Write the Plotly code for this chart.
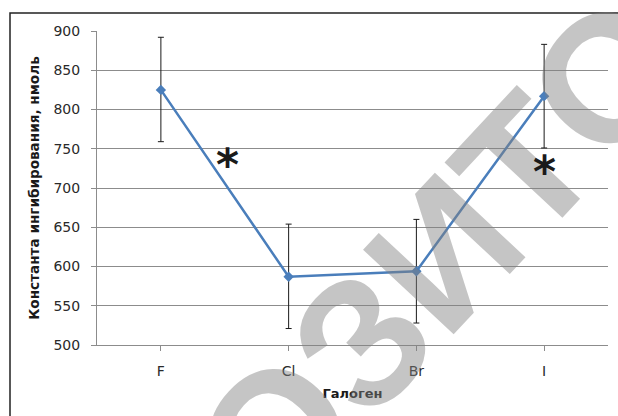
import plotly.graph_objects as go

# Inhibition constants by halogen substituent (nmol), mean with error
halogens = ["F", "Cl", "Br", "I"]
ki_mean = [825, 587, 594, 817]
ki_err_plus = [67, 67, 66, 66]
ki_err_minus = [66, 66, 66, 66]

# Significance markers: (x position in category units, y value)
star_marks = [(0.52, 738), (3.0, 729)]

y_ticks = [500, 550, 600, 650, 700, 750, 800, 850, 900]

FONT = "DejaVu Sans"
BLUE = "#4a7ebb"
GRID = "#8c8c8c"

# Plot area in figure pixels
L, R, T, B = 97, 608, 31, 345
W, H = R - L, B - T

fig = go.Figure()

fig.add_trace(go.Scatter(
    x=list(range(len(halogens))),
    y=ki_mean,
    mode="lines+markers",
    line=dict(color=BLUE, width=2.5),
    marker=dict(symbol="diamond", size=8, color=BLUE),
    error_y=dict(
        type="data",
        symmetric=False,
        array=ki_err_plus,
        arrayminus=ki_err_minus,
        color="#1a1a1a",
        thickness=1,
        width=3,
    ),
    showlegend=False,
))

# Watermark across the chart
fig.add_annotation(
    x=(442 - L) / W, y=(B - 256) / H, xref="paper", yref="paper",
    xanchor="center", yanchor="middle",
    text="<b>ОЗИТО</b>", showarrow=False, textangle=-47,
    font=dict(family="Liberation Sans", size=180, color="rgba(128,128,128,0.46)"),
)

for sx, sy in star_marks:
    fig.add_annotation(
        x=sx, y=sy, xref="x", yref="y",
        text="<b>*</b>", showarrow=False,
        font=dict(family=FONT, size=44, color="#1a1a1a"),
        yshift=-6,
    )

fig.update_layout(
    width=618, height=416,
    margin=dict(l=L, r=618 - R, t=T, b=416 - B),
    paper_bgcolor="white",
    plot_bgcolor="white",
    font=dict(family=FONT, size=14, color="#333333"),
    xaxis=dict(
        tickmode="array",
        tickvals=list(range(len(halogens))),
        ticktext=halogens,
        range=[-0.5, 3.5],
        showgrid=False,
        showline=True, linecolor=GRID, linewidth=1,
        ticks="outside", ticklen=5, tickcolor=GRID,
        tickson="boundaries",
        ticklabelstandoff=8,
        tickfont=dict(family=FONT, size=14, color="#2a2a2a"),
        title=dict(text="<b>Галоген</b>", font=dict(family=FONT, size=13, color="#1a1a1a"), standoff=11),
        zeroline=False,
    ),
    yaxis=dict(
        range=[500, 900],
        tickvals=y_ticks,
        showgrid=True, gridcolor=GRID, gridwidth=1,
        showline=True, linecolor=GRID, linewidth=1,
        ticks="outside", ticklen=5, tickcolor=GRID,
        ticklabelstandoff=8,
        tickfont=dict(family=FONT, size=14, color="#2a2a2a"),
        title=dict(text="<b>Константа ингибирования, нмоль</b>",
                   font=dict(family=FONT, size=13.6, color="#1a1a1a"), standoff=10),
        zeroline=False,
    ),
    shapes=[dict(
        type="rect", xref="paper", yref="paper",
        x0=(10 - L) / W, x1=1.2, y0=-0.5, y1=(B - 13) / H,
        line=dict(color="#222222", width=1.5),
        fillcolor="rgba(0,0,0,0)", layer="above",
    )],
)

fig.write_html("out.html")
